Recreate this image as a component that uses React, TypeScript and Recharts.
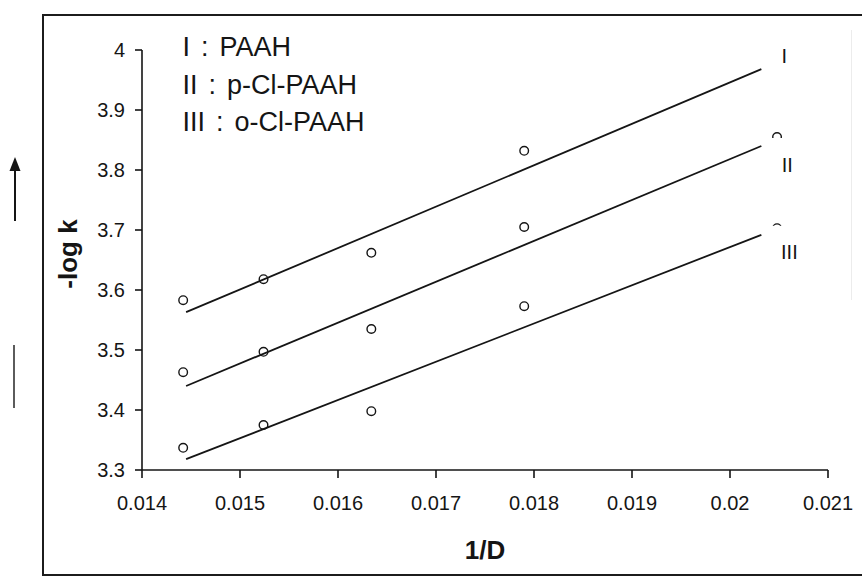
import React from 'react';
import {
  ComposedChart, Scatter, Line, XAxis, YAxis, Legend, LabelList,
} from 'recharts';

// 1/D values of the measured points (same for all three series)
const invD = [0.01442, 0.01524, 0.01634, 0.0179, 0.02048];
const logkI = [3.583, 3.618, 3.662, 3.832, 3.97];
const logkII = [3.463, 3.497, 3.535, 3.705, 3.855];
const logkIII = [3.337, 3.375, 3.398, 3.573, 3.703];

// regression lines: start / end
const fitX = [0.01445, 0.02032];
const fitI = [3.563, 3.968];
const fitII = [3.44, 3.84];
const fitIII = [3.318, 3.692];

const seriesNames = ['I : PAAH', 'II : p-Cl-PAAH', 'III : o-Cl-PAAH'];
const tags = ['I', 'II', 'III'];

const xTicks = [0.014, 0.015, 0.016, 0.017, 0.018, 0.019, 0.02, 0.021];
const yTicks = [3.3, 3.4, 3.5, 3.6, 3.7, 3.8, 3.9, 4];

const FONT = 'Arial, "Liberation Sans", Helvetica, sans-serif';
const INK = '#151515';
const TICK_SIZE = 20;

const toPoints = (xs: number[], ys: number[]) => xs.map((x, i) => ({ x, y: ys[i] }));
const toFit = (ys: number[], tag: string) =>
  fitX.map((x, i) => ({ x, y: ys[i], tag: i === fitX.length - 1 ? tag : undefined }));

const points = [toPoints(invD, logkI), toPoints(invD, logkII), toPoints(invD, logkIII)];
const fits = [toFit(fitI, tags[0]), toFit(fitII, tags[1]), toFit(fitIII, tags[2])];

const Ring = (p: any) => (
  <circle cx={p.cx} cy={p.cy} r={4.3} fill="none" stroke={INK} strokeWidth={1.4} />
);

// label placement next to each line end; the white box hides the end markers like in the print
const tagLayout: Record<string, { dx: number; dy: number; top: number; bottom: number }> = {
  I: { dx: 23, dy: -13, top: -20, bottom: 72 },
  II: { dx: 26, dy: 19, top: -27, bottom: 35 },
  III: { dx: 28, dy: 17, top: -26, bottom: 28 },
};

const TagLabel = (p: any) => {
  if (!p.value) return null;
  const l = tagLayout[p.value];
  const cx = p.x + l.dx;
  const cy = p.y + l.dy;
  return (
    <g>
      <rect x={p.x + 6} y={cy + l.top} width={38} height={l.bottom - l.top} fill="#fff" />
      <text
        x={cx}
        y={cy}
        textAnchor="middle"
        dominantBaseline="central"
        fontSize={20}
        fontFamily={FONT}
        fill={INK}
      >
        {p.value}
      </text>
    </g>
  );
};

const AxisTick = (p: any) => {
  const vertical = p.orientation === 'left';
  return (
    <text
      x={p.x}
      y={p.y}
      textAnchor={vertical ? 'end' : 'middle'}
      dominantBaseline={vertical ? 'central' : 'hanging'}
      fontSize={TICK_SIZE}
      fontFamily={FONT}
      fill={INK}
    >
      {String(p.payload.value)}
    </text>
  );
};

const NameBox = () => (
  <div
    style={{
      fontFamily: FONT,
      fontSize: 27,
      lineHeight: '37.5px',
      color: INK,
      wordSpacing: 3.5,
      whiteSpace: 'pre',
    }}
  >
    {seriesNames.map((n) => (
      <div key={n}>{n}</div>
    ))}
  </div>
);

export default function App() {
  return (
    <div
      style={{
        position: 'absolute',
        left: 0,
        top: 0,
        width: 862,
        height: 578,
        overflow: 'hidden',
        background: '#fff',
      }}
    >
      {/* page frame of the scan */}
      <div
        style={{
          position: 'absolute',
          left: 42,
          top: 14,
          width: 840,
          height: 562,
          border: '2px solid #1c1c1c',
          boxSizing: 'border-box',
        }}
      />
      <div style={{ position: 'absolute', left: 851, top: 30, width: 1, height: 270, background: '#ececec' }} />
      <svg width={42} height={578} style={{ position: 'absolute', left: 0, top: 0 }}>
        <line x1={15} y1={221} x2={15} y2={168} stroke={INK} strokeWidth={2} />
        <polygon points="15,157 9.5,171 20.5,171" fill={INK} />
        <line x1={14} y1={345} x2={14} y2={408} stroke="#333" strokeWidth={1.6} />
      </svg>

      <div style={{ position: 'absolute', left: 0, top: 0 }}>
        <ComposedChart width={862} height={578} margin={{ top: 50, right: 34, bottom: 0, left: 0 }}>
          <XAxis
            type="number"
            dataKey="x"
            domain={[0.014, 0.021]}
            ticks={xTicks}
            interval={0}
            allowDataOverflow
            height={108}
            tickSize={8}
            tickMargin={18}
            stroke={INK}
            strokeWidth={1.6}
            fontSize={TICK_SIZE}
            tick={<AxisTick />}
            label={{
              value: '1/D',
              position: 'insideBottom',
              offset: 19,
              fill: INK,
              fontSize: 26,
              fontWeight: 'bold',
              fontFamily: FONT,
            }}
          />
          <YAxis
            type="number"
            dataKey="y"
            domain={[3.3, 4]}
            ticks={yTicks}
            interval={0}
            allowDataOverflow
            width={142}
            tickSize={7}
            tickMargin={10}
            stroke={INK}
            strokeWidth={1.6}
            fontSize={TICK_SIZE}
            tick={<AxisTick />}
            label={{
              value: '-log k',
              angle: -90,
              position: 'center',
              dx: -3,
              dy: -6,
              fill: INK,
              fontSize: 26,
              fontWeight: 'bold',
              fontFamily: FONT,
            }}
          />
          <Legend
            layout="horizontal"
            verticalAlign="middle"
            align="center"
            content={() => <NameBox />}
            wrapperStyle={{ left: 182.5, top: 29, width: 'auto', height: 'auto' }}
          />
          {points.map((d, i) => (
            <Scatter
              key={`s${i}`}
              name={seriesNames[i]}
              data={d}
              shape={Ring}
              isAnimationActive={false}
              legendType="none"
            />
          ))}
          {fits.map((d, i) => (
            <Line
              key={`l${i}`}
              data={d}
              dataKey="y"
              type="linear"
              stroke={INK}
              strokeWidth={1.8}
              dot={false}
              activeDot={false}
              isAnimationActive={false}
              legendType="none"
            >
              <LabelList dataKey="tag" content={TagLabel} />
            </Line>
          ))}
        </ComposedChart>
      </div>
    </div>
  );
}
